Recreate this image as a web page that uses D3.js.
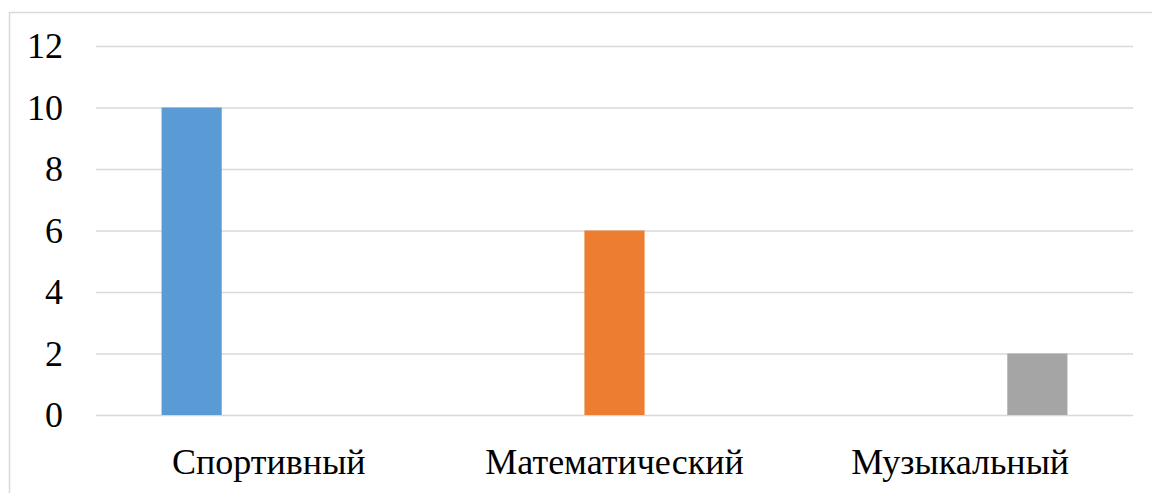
<!DOCTYPE html>
<html><head><meta charset="utf-8">
<script src="https://cdn.jsdelivr.net/npm/d3@7"></script>
<style>body{margin:0;background:#fff}svg{display:block}</style>
</head><body>
<svg id="c" width="1152" height="493"></svg>
<script>
const categories = ["Спортивный", "Математический", "Музыкальный"];
const seriesNames = ["Ряд 1", "Ряд 2", "Ряд 3"];
const series1 = [10, 0, 0];
const series2 = [0, 6, 0];
const series3 = [0, 0, 2];
const colors = ["#5B9BD5", "#ED7D31", "#A5A5A5"];
const yTicks = [0, 2, 4, 6, 8, 10, 12];

const FONT = "Liberation Serif, DejaVu Serif, serif";
const svg = d3.select("#c");
svg.append("rect").attr("x", 9.5).attr("y", 12.5).attr("width", 1200).attr("height", 600)
  .attr("fill", "none").attr("stroke", "#d9d9d9").attr("stroke-width", 1.5);

const mLeft = 96, mRight = 1133, mTop = 46, mBottom = 415;
const x0 = d3.scaleBand().domain(categories).range([mLeft, mRight]);
const p = 17 / 77;
const bw = x0.bandwidth();
const x1 = d3.scaleBand().domain(seriesNames).range([bw * 0.165, bw * 0.835]).paddingInner(p).paddingOuter(p / 2);
const y = d3.scaleLinear().domain([0, 12]).range([mBottom, mTop]);

const grid = svg.append("g").attr("transform", `translate(${mLeft},0)`)
  .call(d3.axisLeft(y).tickValues(yTicks).tickSize(-(mRight - mLeft)).tickFormat(d3.format("d")))
  .attr("font-family", FONT).attr("font-size", 36);
grid.select(".domain").remove();
grid.selectAll(".tick line").attr("stroke", "#d9d9d9").attr("stroke-width", 1.5);
grid.selectAll(".tick text").attr("x", -33).attr("fill", "#000");

const all = [series1, series2, series3];
const data = [];
categories.forEach((c, i) => all.forEach((s, j) => data.push({c, s: seriesNames[j], v: s[i], j})));
svg.append("g").selectAll("rect").data(data.filter(d => d.v > 0)).join("rect")
  .attr("x", d => x0(d.c) + x1(d.s)).attr("width", x1.bandwidth())
  .attr("y", d => y(d.v)).attr("height", d => y(0) - y(d.v))
  .attr("fill", d => colors[d.j]);

const xa = svg.append("g").attr("transform", `translate(0,${mBottom})`)
  .call(d3.axisBottom(x0).tickSize(0).tickPadding(0))
  .attr("font-family", FONT).attr("font-size", 36);
xa.select(".domain").remove();
xa.selectAll(".tick text").attr("y", 59).attr("dy", 0).attr("fill", "#000");
</script>
</body></html>
